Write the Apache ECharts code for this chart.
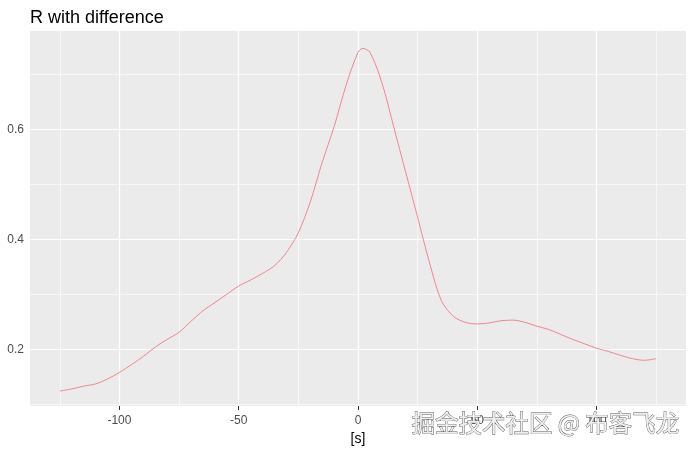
<!DOCTYPE html>
<html>
<head>
<meta charset="utf-8">
<script src="https://cdn.jsdelivr.net/npm/echarts@6/dist/echarts.min.js"></script>
<style>html,body{margin:0;padding:0;background:#fff;}#c{width:694px;height:454px;}</style>
</head>
<body>
<div id="c"></div>
<script>
var xs = [-125,-120,-115,-110,-105,-100,-95,-90,-85,-80,-75,-70,-65,-60,-55,-50,-45,-40,-35,-30,-25,-20,-15,-10,-5,0,2,5,10,15,20,25,30,35,40,45,50,55,60,65,70,75,80,85,90,95,100,105,110,115,120,125];
var ys = [0.124,0.128,0.133,0.137,0.146,0.158,0.172,0.187,0.204,0.218,0.231,0.251,0.270,0.285,0.300,0.315,0.326,0.338,0.352,0.376,0.412,0.468,0.540,0.605,0.680,0.740,0.747,0.740,0.685,0.604,0.522,0.440,0.357,0.288,0.260,0.249,0.246,0.248,0.252,0.253,0.249,0.242,0.236,0.227,0.218,0.210,0.202,0.196,0.189,0.183,0.180,0.183];
var xMajor = [-100,-50,0,50,100];
var xMinor = [-125,-75,-25,25,75,125];
var yMajor = [0.2,0.4,0.6];
var yMinor = [0.1,0.3,0.5,0.7];
var xRange = [-137.5, 137.5];
var yRange = [0.0969, 0.7787];

var chart = echarts.init(document.getElementById('c'), null, {renderer:'canvas'});
var data = xs.map(function(x,i){return [x, ys[i]];});
function vLines(vals, w){ return vals.map(function(v){return {xAxis:v, lineStyle:{color:'#ffffff', width:w, type:'solid'}};}); }
function hLines(vals, w){ return vals.map(function(v){return {yAxis:v, lineStyle:{color:'#ffffff', width:w, type:'solid'}};}); }
var fam = '"Liberation Sans", Arial, sans-serif';
chart.setOption({
  backgroundColor:'#ffffff',
  animation:false,
  title:{text:'R with difference', left:25, top:4, textStyle:{fontFamily:fam, fontSize:18, fontWeight:'normal', color:'#000000'}},
  grid:{left:30, right:8, top:31, bottom:48, show:true, backgroundColor:'#EBEBEB', borderWidth:0},
  xAxis:{type:'value', min:xRange[0], max:xRange[1],
    name:'[s]', nameLocation:'middle', nameGap:26, nameTextStyle:{fontFamily:fam, fontSize:14, color:'#000000'},
    axisLine:{show:false},
    axisTick:{show:true, customValues:xMajor, length:4, lineStyle:{color:'#333333', width:1}},
    axisLabel:{customValues:xMajor, fontFamily:fam, fontSize:12, color:'#4D4D4D', margin:9},
    splitLine:{show:false}},
  yAxis:{type:'value', min:yRange[0], max:yRange[1],
    axisLine:{show:false},
    axisTick:{show:true, customValues:yMajor, length:4, lineStyle:{color:'#333333', width:1}},
    axisLabel:{customValues:yMajor, fontFamily:fam, fontSize:12, color:'#4D4D4D', margin:6, formatter:function(v){return v.toFixed(1);}},
    splitLine:{show:false}},
  series:[
    {type:'line', data:[], z:1, silent:true,
     markLine:{silent:true, z:1, symbol:['none','none'], label:{show:false}, animation:false,
       data: vLines(xMinor,0.6).concat(hLines(yMinor,0.6)).concat(vLines(xMajor,1.2)).concat(hLines(yMajor,1.2))}},
    {type:'line', data:data, z:6, showSymbol:false, smooth:0.3, lineStyle:{color:'#EE6F75', width:0.8}, itemStyle:{color:'#EE6F75'}}
  ],
  graphic:[{type:'text', left:411, top:411, z:10, style:{text:'掘金技术社区 @ 布客飞龙', font:'23.5px "Noto Sans CJK SC"', fill:'#eeeeee', stroke:'#555555', lineWidth:0.8, shadowColor:'rgba(0,0,0,0.5)', shadowBlur:1, shadowOffsetX:1, shadowOffsetY:1}}]
});
</script>
</body>
</html>
